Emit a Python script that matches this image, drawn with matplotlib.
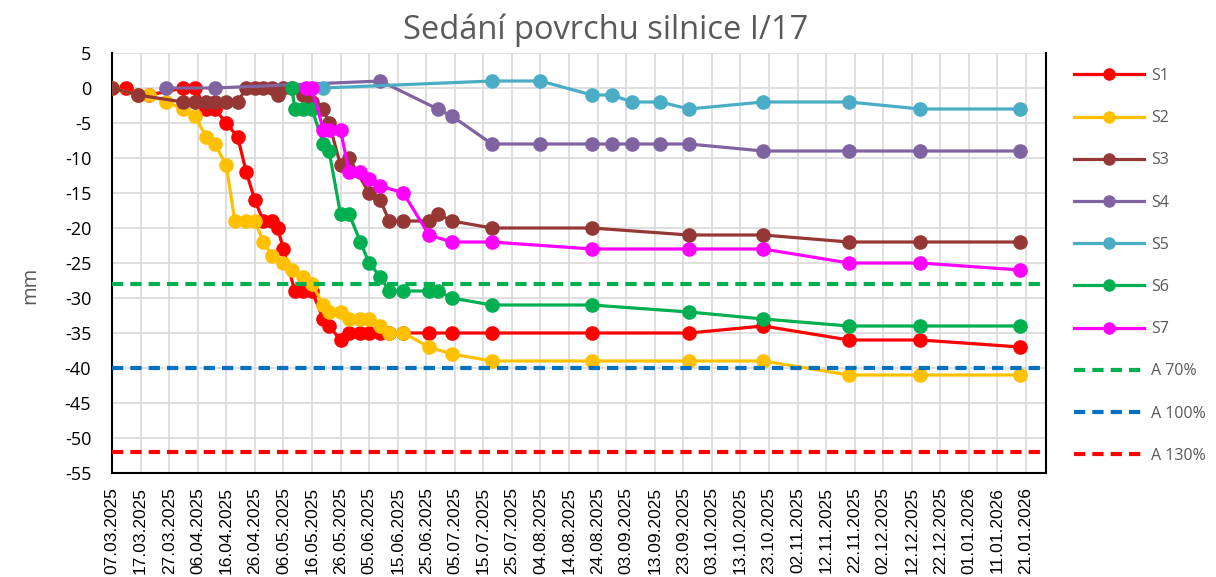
import matplotlib
matplotlib.use("Agg")
import matplotlib.pyplot as plt
import matplotlib.dates as mdates
import pandas as pd
from matplotlib.lines import Line2D

plt.rcParams["axes.unicode_minus"] = False

# ---------------- data ----------------
s1_dates = ["07.03.2025", "12.03.2025", "16.03.2025", "20.03.2025", "01.04.2025", "05.04.2025",
            "09.04.2025", "12.04.2025", "16.04.2025", "20.04.2025", "23.04.2025", "26.04.2025",
            "29.04.2025", "02.05.2025", "04.05.2025", "06.05.2025", "10.05.2025", "13.05.2025",
            "16.05.2025", "20.05.2025", "22.05.2025", "26.05.2025", "29.05.2025", "02.06.2025",
            "05.06.2025", "09.06.2025", "12.06.2025", "17.06.2025", "26.06.2025", "04.07.2025",
            "18.07.2025", "22.08.2025", "25.09.2025", "21.10.2025", "20.11.2025", "15.12.2025",
            "19.01.2026"]
s1_vals = [0, 0, -1, -1, 0, 0, -3, -3, -5, -7, -12, -16, -19, -19, -20, -23, -29, -29, -29,
           -33, -34, -36, -35, -35, -35, -35, -35, -35, -35, -35, -35, -35, -35, -34, -36, -36, -37]

s2_dates = ["07.03.2025", "16.03.2025", "20.03.2025", "26.03.2025", "01.04.2025", "05.04.2025",
            "09.04.2025", "12.04.2025", "16.04.2025", "19.04.2025", "23.04.2025", "26.04.2025",
            "29.04.2025", "02.05.2025", "06.05.2025", "09.05.2025", "13.05.2025", "16.05.2025",
            "20.05.2025", "22.05.2025", "26.05.2025", "29.05.2025", "02.06.2025", "05.06.2025",
            "09.06.2025", "12.06.2025", "17.06.2025", "26.06.2025", "04.07.2025", "18.07.2025",
            "22.08.2025", "25.09.2025", "21.10.2025", "20.11.2025", "15.12.2025", "19.01.2026"]
s2_vals = [0, -1, -1, -2, -3, -4, -7, -8, -11, -19, -19, -19, -22, -24, -25, -26, -27, -28,
           -31, -32, -32, -33, -33, -33, -34, -35, -35, -37, -38, -39, -39, -39, -39, -41, -41, -41]

s3_dates = ["07.03.2025", "16.03.2025", "01.04.2025", "05.04.2025", "09.04.2025", "12.04.2025",
            "16.04.2025", "20.04.2025", "23.04.2025", "26.04.2025", "29.04.2025", "02.05.2025",
            "04.05.2025", "06.05.2025", "09.05.2025", "13.05.2025", "16.05.2025", "20.05.2025",
            "22.05.2025", "26.05.2025", "29.05.2025", "05.06.2025", "09.06.2025", "12.06.2025",
            "17.06.2025", "26.06.2025", "29.06.2025", "04.07.2025", "18.07.2025", "22.08.2025",
            "25.09.2025", "21.10.2025", "20.11.2025", "15.12.2025", "19.01.2026"]
s3_vals = [0, -1, -2, -2, -2, -2, -2, -2, 0, 0, 0, 0, -1, 0, 0, -1, -2, -3, -5, -11, -10,
           -15, -16, -19, -19, -19, -18, -19, -20, -20, -21, -21, -22, -22, -22]

s4_dates = ["26.03.2025", "12.04.2025", "09.06.2025", "29.06.2025", "04.07.2025", "18.07.2025",
            "04.08.2025", "22.08.2025", "29.08.2025", "05.09.2025", "15.09.2025", "25.09.2025",
            "21.10.2025", "20.11.2025", "15.12.2025", "19.01.2026"]
s4_vals = [0, 0, 1, -3, -4, -8, -8, -8, -8, -8, -8, -8, -9, -9, -9, -9]

s5_dates = ["20.05.2025", "18.07.2025", "04.08.2025", "22.08.2025", "29.08.2025", "05.09.2025",
            "15.09.2025", "25.09.2025", "21.10.2025", "20.11.2025", "15.12.2025", "19.01.2026"]
s5_vals = [0, 1, 1, -1, -1, -2, -2, -3, -2, -2, -3, -3]

s6_dates = ["09.05.2025", "10.05.2025", "13.05.2025", "16.05.2025", "20.05.2025", "22.05.2025",
            "26.05.2025", "29.05.2025", "02.06.2025", "05.06.2025", "09.06.2025", "12.06.2025",
            "17.06.2025", "26.06.2025", "29.06.2025", "04.07.2025", "18.07.2025", "22.08.2025",
            "25.09.2025", "21.10.2025", "20.11.2025", "15.12.2025", "19.01.2026"]
s6_vals = [0, -3, -3, -3, -8, -9, -18, -18, -22, -25, -27, -29, -29, -29, -29, -30, -31, -31,
           -32, -33, -34, -34, -34]

s7_dates = ["14.05.2025", "16.05.2025", "20.05.2025", "22.05.2025", "26.05.2025", "29.05.2025",
            "02.06.2025", "05.06.2025", "09.06.2025", "17.06.2025", "26.06.2025", "04.07.2025",
            "18.07.2025", "22.08.2025", "25.09.2025", "21.10.2025", "20.11.2025", "15.12.2025",
            "19.01.2026"]
s7_vals = [0, 0, -6, -6, -6, -12, -12, -13, -14, -15, -21, -22, -22, -23, -23, -23, -25, -25, -26]

series_names = ["S1", "S2", "S3", "S4", "S5", "S6", "S7"]
series_colors = ["#FF0000", "#FFC000", "#953735", "#8064A2", "#4BACC6", "#00B050", "#FF00FF"]

limit_names = ["A 70%", "A 100%", "A 130%"]
limit_vals = [-28, -40, -52]
limit_colors = ["#00B050", "#0070C0", "#FF0000"]

title = "Sedání povrchu silnice I/17"
y_label = "mm"
x_start = "07.03.2025"
x_tick_end = "21.01.2026"
x_end = "28.01.2026"

# ---------------- plot ----------------
def d(lst):
    return pd.to_datetime(lst, format="%d.%m.%Y")

fig = plt.figure(figsize=(12.16, 5.77), dpi=100)
ax = fig.add_axes([112 / 1216, 1 - 473 / 577, (1046 - 112) / 1216, (473 - 53) / 577])

all_dates = [s1_dates, s2_dates, s3_dates, s4_dates, s5_dates, s6_dates, s7_dates]
all_vals = [s1_vals, s2_vals, s3_vals, s4_vals, s5_vals, s6_vals, s7_vals]

handles = []
for i, (dt, v, name, c) in enumerate(zip(all_dates, all_vals, series_names, series_colors)):
    ax.plot(d(dt), v, color=c, lw=2.3, marker="o", markersize=9.5, zorder=3 + i,
            solid_joinstyle="round")
    handles.append(Line2D([], [], color=c, lw=2.3, marker="o", markersize=8, label=name))

for name, v, c in zip(limit_names, limit_vals, limit_colors):
    ax.axhline(v, color=c, lw=3, dashes=(2.7, 1.7), zorder=12)
    handles.append(Line2D([], [], color=c, lw=3, dashes=(2.7, 1.7), label=name))

ax.set_ylim(-55, 5)
ax.set_yticks(range(5, -56, -5))
ax.set_xlim(d([x_start])[0], d([x_end])[0])
ticks = pd.date_range(d([x_start])[0], d([x_tick_end])[0], freq="10D")
ax.set_xticks(ticks)
ax.xaxis.set_major_formatter(mdates.DateFormatter("%d.%m.%Y"))
for lab in ax.get_xticklabels():
    lab.set_rotation(90)
    lab.set_fontfamily("Liberation Sans")
    lab.set_fontsize(12.5)
ax.tick_params(axis="x", length=0, pad=10)
ax.tick_params(axis="y", length=0, pad=15, labelsize=13)
for lab in ax.get_yticklabels():
    lab.set_fontfamily("Open Sans")

ax.grid(True, color="#D9D9D9", lw=1.2, zorder=0)
ax.set_axisbelow(True)
for side in ["left", "bottom", "right"]:
    ax.spines[side].set_color("black")
    ax.spines[side].set_linewidth(1.5)
ax.spines["top"].set_visible(False)

fig.text(30 / 1216, 1 - 285 / 577, y_label, rotation=90, ha="center", va="center",
         fontsize=14.5, color="#595959", family="Open Sans")
fig.text(606 / 1216, 1 - 30 / 577, title, ha="center", va="center", fontsize=23.5,
         color="#595959", family="Open Sans")

leg = fig.legend(handles=handles, loc="upper left", bbox_to_anchor=(1074 / 1216, 1 - 68 / 577),
                 frameon=False, handlelength=4.4, handletextpad=0.45, labelspacing=1.64,
                 borderpad=0, borderaxespad=0, prop={"family": "Open Sans", "size": 11.5})
for t in leg.get_texts():
    t.set_color("#595959")

fig.savefig("out.png", dpi=100)
